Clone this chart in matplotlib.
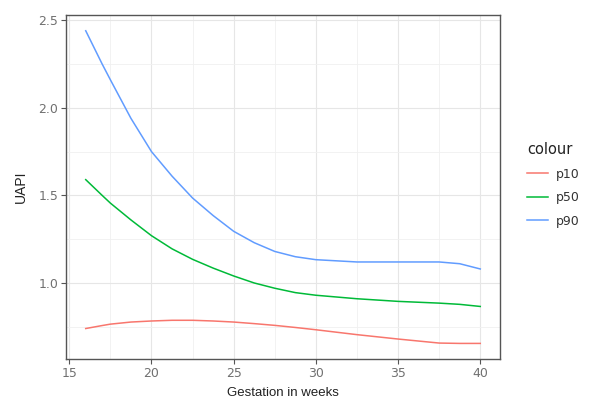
"""UAPI reference percentiles (p10 / p50 / p90) across gestation."""
import numpy as np
import matplotlib
matplotlib.use("Agg")
import matplotlib.pyplot as plt
from matplotlib.ticker import MultipleLocator

plt.rcParams["text.parse_math"] = False

weeks = [16, 17, 17.5, 18.75, 20, 21.25, 22.5, 23.75, 25, 26.25, 27.5, 28.75,
         30, 32.5, 35, 37.5, 38.75, 40]
p10 = [0.74, 0.757, 0.765, 0.777, 0.783, 0.787, 0.787, 0.783, 0.777, 0.768, 0.758, 0.746,
       0.733, 0.705, 0.68, 0.657, 0.655, 0.655]
p50 = [1.59, 1.50, 1.456, 1.36, 1.27, 1.195, 1.135, 1.085, 1.04, 1.0, 0.97, 0.945,
       0.93, 0.91, 0.895, 0.885, 0.878, 0.866]
p90 = [2.44, 2.25, 2.16, 1.94, 1.75, 1.61, 1.485, 1.385, 1.295, 1.23, 1.18, 1.15,
       1.133, 1.12, 1.12, 1.12, 1.11, 1.08]

series = [("p10", p10, "#F8766D"), ("p50", p50, "#00BA38"), ("p90", p90, "#619CFF")]


def main():
    fig = plt.figure(figsize=(5.89, 4.01), dpi=100)
    ax = fig.add_axes([66 / 589, 42 / 401, 434 / 589, 344 / 401])

    for name, vals, col in series:
        ax.plot(weeks, vals, color=col, linewidth=1.1, label=name)

    ax.set_xlim(14.8, 41.2)
    ax.set_ylim(0.566, 2.53)
    ax.xaxis.set_major_locator(MultipleLocator(5))
    ax.xaxis.set_minor_locator(MultipleLocator(2.5))
    ax.yaxis.set_major_locator(MultipleLocator(0.5))
    ax.yaxis.set_minor_locator(MultipleLocator(0.25))
    ax.set_yticks([1.0, 1.5, 2.0, 2.5])
    ax.set_yticklabels(["1.0", "1.5", "2.0", "2.5"])

    ax.grid(which="major", color="#E6E6E6", linewidth=0.8)
    ax.grid(which="minor", color="#F0F0F0", linewidth=0.6)
    ax.set_axisbelow(True)
    ax.tick_params(which="minor", length=0)
    ax.tick_params(which="major", length=3.5, width=0.8, color="#555555",
                   labelcolor="#707070", labelsize=9, pad=2)
    for sp in ax.spines.values():
        sp.set_color("#555555")
        sp.set_linewidth(1.0)

    ax.set_xlabel("Gestation in weeks", family="Liberation Sans", fontsize=9.5,
                  color="#222222", labelpad=5)
    ax.set_ylabel("UAPI", family="Liberation Sans", fontsize=10,
                  color="#222222", labelpad=8)

    leg = fig.legend(loc="upper left", bbox_to_anchor=(527 / 589, 1 - 142 / 401),
                     title="colour", frameon=False, fontsize=9, handlelength=1.7,
                     labelspacing=0.85, borderpad=0, borderaxespad=0,
                     handletextpad=0.6, alignment="left")
    leg.get_title().set_fontsize(10.5)
    leg.get_title().set_color("#222222")
    for t in leg.get_texts():
        t.set_color("#333333")

    fig.savefig("out.png", dpi=100)


if __name__ == "__main__":
    main()
